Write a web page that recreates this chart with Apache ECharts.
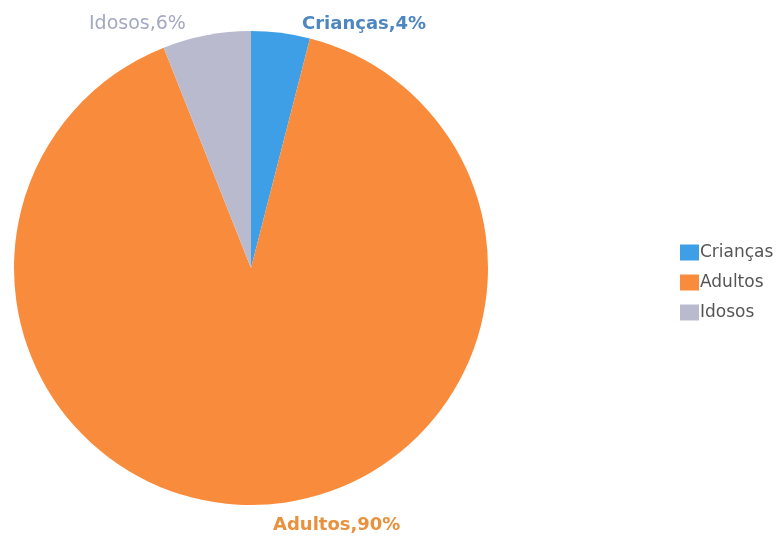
<!DOCTYPE html>
<html>
<head>
<meta charset="utf-8">
<script src="https://cdn.jsdelivr.net/npm/echarts@6/dist/echarts.min.js"></script>
<style>html,body{margin:0;padding:0;background:#fff}#c{width:783px;height:540px}</style>
</head>
<body>
<div id="c"></div>
<script>
const categories = ['Crianças', 'Adultos', 'Idosos'];
const values = [4, 90, 6];
const sliceColors = ['#3f9fe6', '#f98c3c', '#b9bacd'];
const labelColors = ['#4d86c0', '#e8913e', '#a4a8c0'];

const chart = echarts.init(document.getElementById('c'));
chart.setOption({
  animation: false,
  legend: {
    orient: 'vertical',
    left: 675,
    top: 239,
    itemWidth: 19,
    itemHeight: 16,
    itemGap: 13,
    icon: 'rect',
    textStyle: { fontFamily: 'DejaVu Sans', fontSize: 17, color: '#555', padding: [0, 0, 0, -4] },
    data: categories
  },
  series: [{
    type: 'pie',
    center: [251, 268],
    radius: 237,
    startAngle: 90,
    clockwise: true,
    label: {
      show: true,
      position: 'outside',
      formatter: '{b},{d}%',
      fontFamily: 'DejaVu Sans',
      fontSize: 18,
      fontWeight: 'bold'
    },
    labelLine: { show: false, length: 4, length2: 0 },
    labelLayout: function (p) {
      if (p.dataIndex === 0) return { x: 302, y: 24, align: 'left', verticalAlign: 'middle' };
      if (p.dataIndex === 2) return { x: 89, y: 24, align: 'left', verticalAlign: 'middle' };
      return { x: 273, y: 525, align: 'left', verticalAlign: 'middle' };
    },
    data: categories.map((n, i) => ({
      name: n,
      value: values[i],
      itemStyle: { color: sliceColors[i] },
      label: { color: labelColors[i], fontWeight: i === 2 ? 'normal' : 'bold', fontSize: i === 2 ? 19 : 18 }
    }))
  }]
});
</script>
</body>
</html>
